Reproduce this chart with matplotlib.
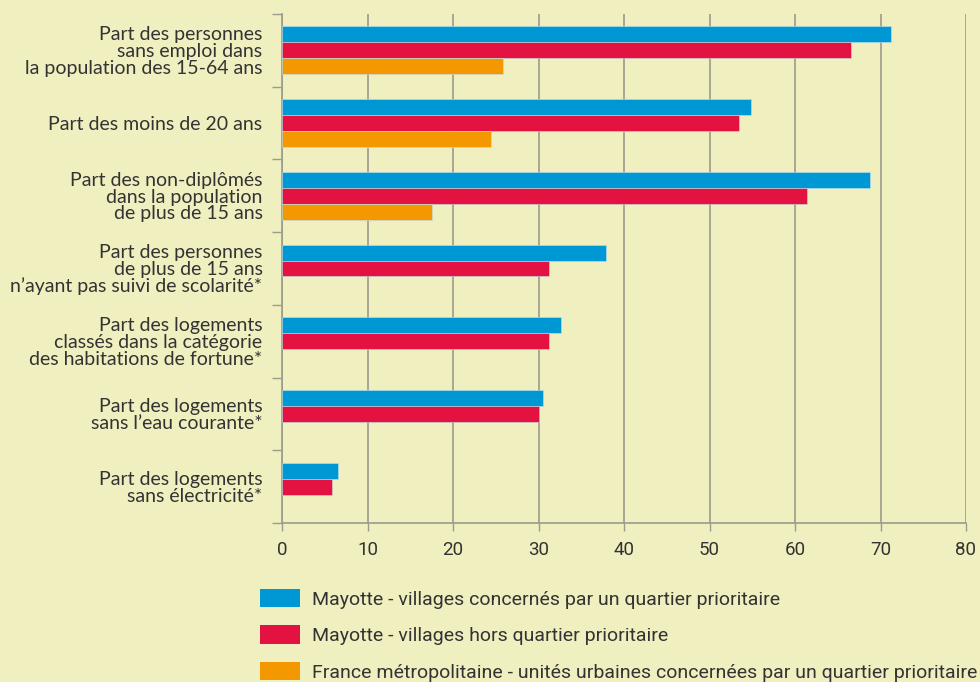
import matplotlib.pyplot as plt
import numpy as np
from matplotlib.patches import Patch
from matplotlib.ticker import FixedLocator

# Données (en %)
categories = [
    "Part des personnes\nsans emploi dans\nla population des 15-64 ans",
    "Part des moins de 20 ans",
    "Part des non-diplômés\ndans la population\nde plus de 15 ans",
    "Part des personnes\nde plus de 15 ans\nn\u2019ayant pas suivi de scolarité*",
    "Part des logements\nclassés dans la catégorie\ndes habitations de fortune*",
    "Part des logements\nsans l\u2019eau courante*",
    "Part des logements\nsans électricité*",
]
mayotte_qp = [71.2, 54.9, 68.8, 37.9, 32.6, 30.5, 6.6]
mayotte_hors_qp = [66.5, 53.5, 61.4, 31.2, 31.2, 30.0, 5.8]
france_metro = [25.8, 24.4, 17.6, np.nan, np.nan, np.nan, np.nan]

series_labels = [
    "Mayotte - villages concernés par un quartier prioritaire",
    "Mayotte - villages hors quartier prioritaire",
    "France métropolitaine - unités urbaines concernées par un quartier prioritaire",
]
colors = ["#0098d4", "#e31240", "#f39800"]
x_ticks = [0, 10, 20, 30, 40, 50, 60, 70, 80]

bg = "#f0efc0"
grid_col = "#9c9a8c"
text_col = "#333333"
label_font = ["Lato", "DejaVu Sans"]
narrow_font = ["Roboto", "DejaVu Sans"]

fig = plt.figure(figsize=(9.8, 6.82), dpi=100, facecolor=bg)
ax = fig.add_axes([282 / 980, 1 - 523 / 682, 684 / 980, 509 / 682])
ax.set_facecolor(bg)

n = len(categories)
y = np.arange(n)
h = 0.22
for i, (vals, col) in enumerate(zip([mayotte_qp, mayotte_hors_qp, france_metro], colors)):
    ax.barh(y + (i - 1) * h, vals, height=h, color=col, zorder=3,
            edgecolor="#bfe3ee", linewidth=0.4)

ax.set_xlim(0, 80)
ax.set_ylim(n - 0.5, -0.5)

# grille verticale
ax.set_xticks(x_ticks)
ax.set_xticklabels([str(t) for t in x_ticks], family=narrow_font, fontsize=13.5, color=text_col)
ax.grid(axis="x", color=grid_col, linewidth=1.2, zorder=1)
ax.tick_params(axis="x", direction="out", length=6, width=1, color=grid_col, pad=7)

# étiquettes des catégories, traits aux limites des groupes
ax.set_yticks(y)
ax.set_yticklabels(categories, family=label_font, fontsize=14, color=text_col,
                   linespacing=0.98)
ax.tick_params(axis="y", length=0, pad=14)
ax.yaxis.set_minor_locator(FixedLocator(np.arange(-0.5, n, 1)))
ax.tick_params(axis="y", which="minor", length=7, width=1, color=grid_col)

for s in ["top", "right"]:
    ax.spines[s].set_visible(False)
ax.spines["left"].set_color(grid_col)
ax.spines["left"].set_linewidth(1.2)
ax.spines["bottom"].set_color(grid_col)
ax.spines["bottom"].set_linewidth(1.2)

handles = [Patch(facecolor=c, edgecolor="none") for c in colors]
fig.legend(handles, series_labels, loc="upper left",
           bbox_to_anchor=(260 / 980, 1 - 589 / 682), frameon=False,
           prop={"family": narrow_font, "size": 14}, labelcolor=text_col,
           handlelength=2.05, handleheight=1.08, handletextpad=0.62,
           labelspacing=0.85, borderpad=0, borderaxespad=0)

plt.savefig("out.png", dpi=100, facecolor=bg)
